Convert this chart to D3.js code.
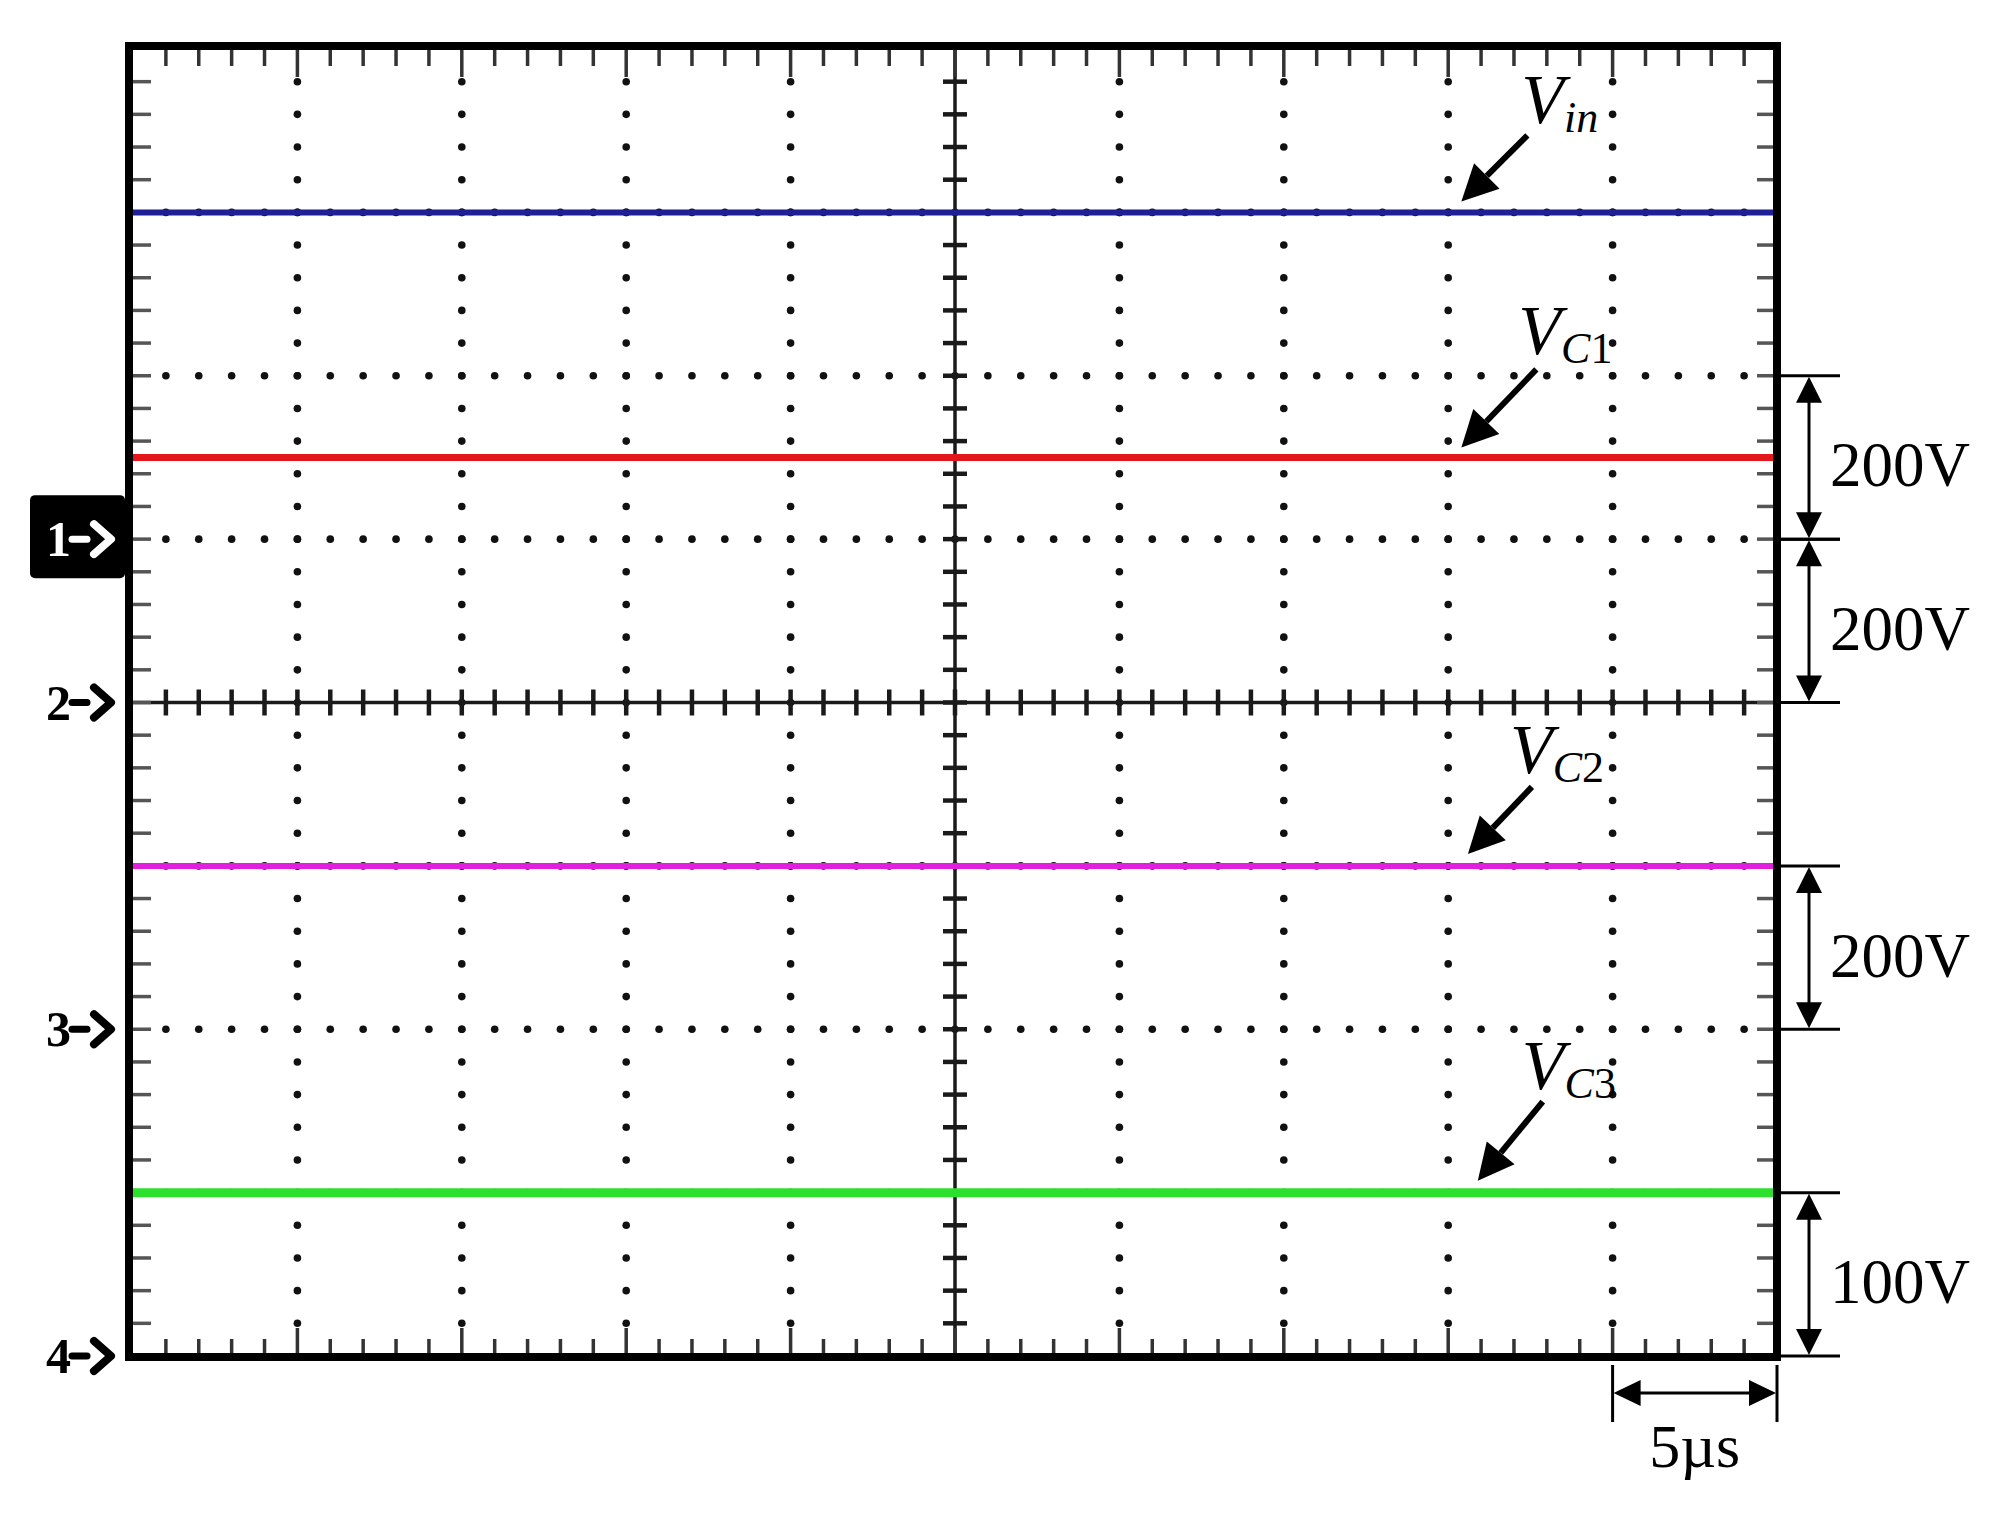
<!DOCTYPE html>
<html>
<head>
<meta charset="utf-8">
<script src="https://cdn.jsdelivr.net/npm/d3@7"></script>
<style>
  body { margin: 0; background: #fff; }
  svg { display: block; }
  text { font-family: "Liberation Serif", "Times New Roman", serif; }
</style>
</head>
<body>
<svg id="scope" width="1996" height="1520"></svg>
<script>
// scope channel setup
var channelNames = ["1", "2", "3", "4"];
var channelGroundDiv = [3, 4, 6, 8];          // ground marker, divisions from top
var channelVoltsPerDiv = [200, 200, 200, 100];

// traces (DC levels, volts)
var traceNames = ["in", "C1", "C2", "C3"];
var traceChannel = [0, 1, 2, 3];
var traceTimes = [0, 50];                      // µs
var traceVolts = [400, 300, 200, 100];
var traceColors = ["#1f1f96", "#e3161c", "#e020dc", "#2ee02e"];
var traceWidths = [6, 7, 6, 9];

// time base
var timePerDiv = 5;
var timeLabel = "5\u00b5s";

// label arrows: where the arrow tip meets the trace (µs)
var labelTimes = [40.4, 40.4, 40.6, 40.9];
var tipGap = [11, 10, 12, 12];
var tailOffset = [[66, -66], [75, -78], [64, -67], [65, -79]];
var textOffset = [[60, -78], [57, -93], [42, -81], [44, -92]];

var svg = d3.select("#scope");

var gx0 = 133, gx1 = 1777, gy0 = 49, gy1 = 1356;
var nx = 10, ny = 8;

var x = d3.scaleLinear().domain([0, nx * timePerDiv]).range([gx0, gx1]);
var xDiv = d3.scaleLinear().domain([0, nx]).range([gx0, gx1]);
var yDiv = d3.scaleLinear().domain([0, ny]).range([gy0, gy1]);

var yChannel = channelGroundDiv.map(function(g, i) {
    var v = channelVoltsPerDiv[i];
    return d3.scaleLinear().domain([(g - ny) * v, g * v]).range([gy1, gy0]);
});

// ---- graticule ----
var grid = svg.append("g").attr("class", "graticule");

var xMinor = d3.range(1, nx * 5).map(function(k) { return k / 5; });
var yMinor = d3.range(1, ny * 5).map(function(k) { return k / 5; });

var dots = [];
d3.range(1, nx).forEach(function(i) {
    if (i === nx / 2) return;
    yMinor.forEach(function(m) { dots.push([xDiv(i), yDiv(m)]); });
});
d3.range(1, ny).forEach(function(j) {
    if (j === ny / 2) return;
    xMinor.forEach(function(m) { dots.push([xDiv(m), yDiv(j)]); });
});
grid.selectAll("circle.dot")
    .data(dots)
    .enter().append("circle")
        .attr("class", "dot")
        .attr("cx", function(d) { return d[0]; })
        .attr("cy", function(d) { return d[1]; })
        .attr("r", 3.8)
        .attr("fill", "#111");

// centre cross
var cx = xDiv(nx / 2), cy = yDiv(ny / 2);
grid.append("line").attr("x1", gx0).attr("x2", gx1).attr("y1", cy).attr("y2", cy)
    .attr("stroke", "#1a1a1a").attr("stroke-width", 3.5);
grid.append("line").attr("x1", cx).attr("x2", cx).attr("y1", gy0).attr("y2", gy1)
    .attr("stroke", "#1a1a1a").attr("stroke-width", 3.5);

grid.selectAll("line.cxt")
    .data(xMinor)
    .enter().append("line")
        .attr("class", "cxt")
        .attr("x1", function(d) { return xDiv(d); })
        .attr("x2", function(d) { return xDiv(d); })
        .attr("y1", cy - 13).attr("y2", cy + 13)
        .attr("stroke", "#1a1a1a").attr("stroke-width", 4.5);
grid.selectAll("line.cyt")
    .data(yMinor)
    .enter().append("line")
        .attr("class", "cyt")
        .attr("y1", function(d) { return yDiv(d); })
        .attr("y2", function(d) { return yDiv(d); })
        .attr("x1", cx - 12).attr("x2", cx + 12)
        .attr("stroke", "#1a1a1a").attr("stroke-width", 4.5);

// edge ticks
function tickLen(d) { return Math.abs(d - Math.round(d)) < 1e-6 ? 28 : 17; }
grid.selectAll("line.top")
    .data(xMinor)
    .enter().append("line")
        .attr("class", "top")
        .attr("x1", function(d) { return xDiv(d); })
        .attr("x2", function(d) { return xDiv(d); })
        .attr("y1", gy0).attr("y2", function(d) { return gy0 + tickLen(d); })
        .attr("stroke", "#333").attr("stroke-width", 3.5);
grid.selectAll("line.bottom")
    .data(xMinor)
    .enter().append("line")
        .attr("class", "bottom")
        .attr("x1", function(d) { return xDiv(d); })
        .attr("x2", function(d) { return xDiv(d); })
        .attr("y1", gy1).attr("y2", function(d) { return gy1 - tickLen(d); })
        .attr("stroke", "#333").attr("stroke-width", 3.5);
grid.selectAll("line.left")
    .data(yMinor)
    .enter().append("line")
        .attr("class", "left")
        .attr("y1", function(d) { return yDiv(d); })
        .attr("y2", function(d) { return yDiv(d); })
        .attr("x1", gx0).attr("x2", gx0 + 18)
        .attr("stroke", "#555").attr("stroke-width", 3.5);
grid.selectAll("line.right")
    .data(yMinor)
    .enter().append("line")
        .attr("class", "right")
        .attr("y1", function(d) { return yDiv(d); })
        .attr("y2", function(d) { return yDiv(d); })
        .attr("x1", gx1 - 4).attr("x2", gx1 - 20)
        .attr("stroke", "#555").attr("stroke-width", 3.5);

// ---- traces ----
svg.append("clipPath").attr("id", "screen")
    .append("rect").attr("x", gx0).attr("y", gy0).attr("width", gx1 - 4 - gx0).attr("height", gy1 - gy0);

var traces = svg.append("g").attr("clip-path", "url(#screen)");
traceNames.forEach(function(name, i) {
    var yc = yChannel[traceChannel[i]];
    var pts = traceTimes.map(function(t) { return [t, traceVolts[i]]; });
    var line = d3.line()
        .x(function(d) { return x(d[0]); })
        .y(function(d) { return yc(d[1]); });
    traces.append("path")
        .datum(pts)
        .attr("d", line)
        .attr("fill", "none")
        .attr("stroke", traceColors[i])
        .attr("stroke-width", traceWidths[i]);
});

// frame
svg.append("rect")
    .attr("x", gx0 - 4).attr("y", gy0 - 3)
    .attr("width", gx1 - gx0 + 4).attr("height", gy1 - gy0 + 4)
    .attr("fill", "none").attr("stroke", "#000").attr("stroke-width", 8);

// ---- trace labels with arrows ----
function arrowHead(tip, from, len, half) {
    var dx = tip[0] - from[0], dy = tip[1] - from[1];
    var n = Math.sqrt(dx * dx + dy * dy);
    var ux = dx / n, uy = dy / n;
    var bx = tip[0] - ux * len, by = tip[1] - uy * len;
    return {
        base: [bx, by],
        path: "M" + tip[0] + "," + tip[1] +
              "L" + (bx - uy * half) + "," + (by + ux * half) +
              "L" + (bx + uy * half) + "," + (by - ux * half) + "Z"
    };
}

var notes = svg.append("g").attr("class", "notes");
traceNames.forEach(function(name, i) {
    var yc = yChannel[traceChannel[i]];
    var tip = [x(labelTimes[i]), yc(traceVolts[i]) - tipGap[i]];
    var tail = [tip[0] + tailOffset[i][0], tip[1] + tailOffset[i][1]];
    var head = arrowHead(tip, tail, 36, 18);
    notes.append("line")
        .attr("x1", tail[0]).attr("y1", tail[1])
        .attr("x2", head.base[0]).attr("y2", head.base[1])
        .attr("stroke", "#000").attr("stroke-width", 6);
    notes.append("path").attr("d", head.path).attr("fill", "#000");

    var t = notes.append("text")
        .attr("x", tip[0] + textOffset[i][0])
        .attr("y", tip[1] + textOffset[i][1])
        .attr("fill", "#000");
    t.append("tspan").attr("font-style", "italic").attr("font-size", 70).text("V");
    if (name === "in") {
        t.append("tspan").attr("font-style", "italic").attr("font-size", 44)
            .attr("dy", 9).text(name);
    } else {
        t.append("tspan").attr("font-style", "italic").attr("font-size", 44)
            .attr("dy", 9).text(name.charAt(0));
        t.append("tspan").attr("font-size", 44).text(name.slice(1));
    }
});

// ---- volts/div dimension arrows on the right ----
var dim = svg.append("g").attr("class", "dims");
var ax = 1809;
channelGroundDiv.forEach(function(g, i) {
    var yTop = yDiv(g - 1), yBot = yDiv(g);
    [yTop, yBot].forEach(function(yy) {
        dim.append("line").attr("x1", gx1).attr("x2", 1840).attr("y1", yy).attr("y2", yy)
            .attr("stroke", "#000").attr("stroke-width", 3);
    });
    dim.append("line").attr("x1", ax).attr("x2", ax).attr("y1", yTop + 24).attr("y2", yBot - 24)
        .attr("stroke", "#000").attr("stroke-width", 3);
    dim.append("path").attr("d", arrowHead([ax, yTop + 1], [ax, yBot], 26, 13).path).attr("fill", "#000");
    dim.append("path").attr("d", arrowHead([ax, yBot - 1], [ax, yTop], 26, 13).path).attr("fill", "#000");
    dim.append("text")
        .attr("x", 1830).attr("y", (yTop + yBot) / 2 + 29)
        .attr("font-size", 63).attr("fill", "#000")
        .text(channelVoltsPerDiv[i] + "V");
});

// ---- time/div dimension at the bottom ----
var tx0 = x((nx - 1) * timePerDiv), tx1 = x(nx * timePerDiv);
var ty = 1393;
[tx0, tx1].forEach(function(xx) {
    dim.append("line").attr("x1", xx).attr("x2", xx).attr("y1", 1365).attr("y2", 1422)
        .attr("stroke", "#000").attr("stroke-width", 3);
});
dim.append("line").attr("x1", tx0 + 24).attr("x2", tx1 - 24).attr("y1", ty).attr("y2", ty)
    .attr("stroke", "#000").attr("stroke-width", 3);
dim.append("path").attr("d", arrowHead([tx0 + 1, ty], [tx1, ty], 27, 13).path).attr("fill", "#000");
dim.append("path").attr("d", arrowHead([tx1 - 1, ty], [tx0, ty], 27, 13).path).attr("fill", "#000");
dim.append("text")
    .attr("x", (tx0 + tx1) / 2).attr("y", 1467)
    .attr("text-anchor", "middle")
    .attr("font-size", 62).attr("fill", "#000")
    .text(timeLabel);

// ---- channel ground markers on the left ----
var markers = svg.append("g").attr("class", "markers");
channelNames.forEach(function(name, i) {
    var c = yDiv(channelGroundDiv[i]);
    var ink = "#000";
    if (i === 0) {
        markers.append("rect")
            .attr("x", 30).attr("y", c - 44).attr("width", 95).attr("height", 83)
            .attr("rx", 5).attr("fill", "#000");
        ink = "#fff";
    }
    markers.append("text")
        .attr("x", 46).attr("y", c + 17)
        .attr("font-size", 50).attr("font-weight", "bold").attr("fill", ink)
        .text(name);
    markers.append("line")
        .attr("x1", 72).attr("x2", 87).attr("y1", c).attr("y2", c)
        .attr("stroke", ink).attr("stroke-width", 7).attr("stroke-linecap", "round");
    markers.append("path")
        .attr("d", "M94," + (c - 15) + "L111," + c + "L94," + (c + 15))
        .attr("fill", "none").attr("stroke", ink).attr("stroke-width", 8)
        .attr("stroke-linecap", "round").attr("stroke-linejoin", "round");
});
</script>
</body>
</html>
